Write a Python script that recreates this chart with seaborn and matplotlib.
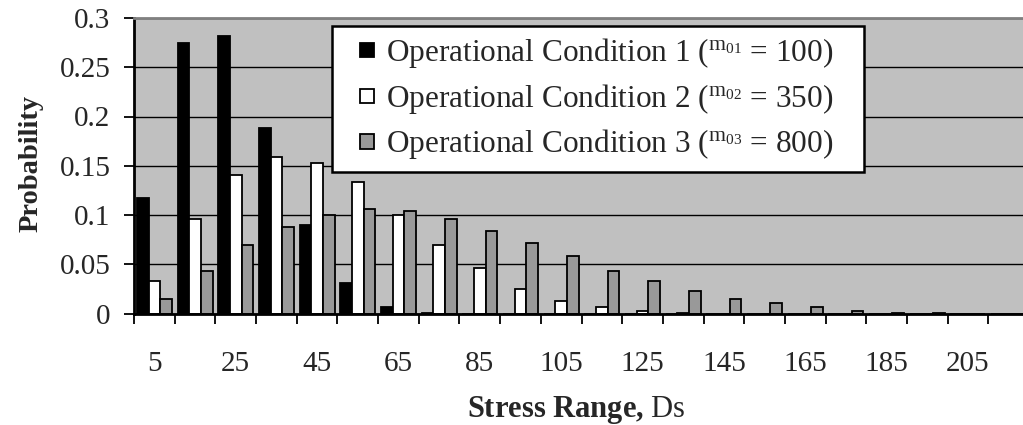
import numpy as np
import pandas as pd
import matplotlib
matplotlib.use("Agg")
import matplotlib.pyplot as plt
from matplotlib.patches import Rectangle
from matplotlib.legend_handler import HandlerPatch
import seaborn as sns

# Stress range bins (centres) and probability of each bin per operational condition
stress_range = [5, 15, 25, 35, 45, 55, 65, 75, 85, 95, 105,
                115, 125, 135, 145, 155, 165, 175, 185, 195, 205, 215]
cond1 = [0.117, 0.275, 0.282, 0.188, 0.090, 0.031, 0.007, 0.001, 0, 0, 0,
         0, 0, 0, 0, 0, 0, 0, 0, 0, 0, 0]
cond2 = [0.033, 0.096, 0.141, 0.159, 0.153, 0.133, 0.100, 0.070, 0.046, 0.025, 0.013,
         0.007, 0.003, 0.001, 0, 0, 0, 0, 0, 0, 0, 0]
cond3 = [0.015, 0.043, 0.070, 0.088, 0.100, 0.106, 0.104, 0.096, 0.084, 0.072, 0.058,
         0.043, 0.033, 0.023, 0.015, 0.011, 0.007, 0.003, 0.001, 0.001, 0, 0]
series_names = ["c1", "c2", "c3"]
legend_labels = [
    r"Operational Condition 1 (${}^{\mathrm{m}_{01}}$ = 100)",
    r"Operational Condition 2 (${}^{\mathrm{m}_{02}}$ = 350)",
    r"Operational Condition 3 (${}^{\mathrm{m}_{03}}$ = 800)",
]
y_ticks = [0, 0.05, 0.1, 0.15, 0.2, 0.25, 0.3]
y_ticklabels = ["0", "0.05", "0.1", "0.15", "0.2", "0.25", "0.3"]

cats = [str(s) for s in stress_range]
df = pd.DataFrame({
    "range": cats * 3,
    "prob": cond1 + cond2 + cond3,
    "cond": [series_names[0]] * len(cats) + [series_names[1]] * len(cats) + [series_names[2]] * len(cats),
})

sns.set_theme(style="white")
plt.rcParams["font.family"] = ["Liberation Serif", "DejaVu Serif"]
plt.rcParams["mathtext.fontset"] = "custom"
plt.rcParams["mathtext.rm"] = "Liberation Serif"
plt.rcParams["mathtext.it"] = "Liberation Serif:italic"
plt.rcParams["mathtext.bf"] = "Liberation Serif:bold"

W, H = 1023, 425
fig = plt.figure(figsize=(W / 100, H / 100), dpi=100)
ax = fig.add_axes([134 / W, (H - 313.5) / H, (1029 - 134) / W, (313.5 - 18) / H])
ax.set_facecolor("#c0c0c0")

sns.barplot(data=df, x="range", y="prob", hue="cond", order=cats,
            hue_order=series_names,
            palette=["#000000", "#ffffff", "#999999"],
            edgecolor="black", linewidth=1.3, width=0.86, gap=0,
            saturation=1, errorbar=None, ax=ax)

ax.set_xlim(-0.5, len(cats) - 0.5)
ax.set_ylim(0, 0.3)

# horizontal gridlines
ax.set_axisbelow(True)
ax.yaxis.grid(True, color="black", linewidth=1.0)
ax.xaxis.grid(False)

ax.set_yticks(y_ticks)
ax.set_yticklabels(y_ticklabels, fontsize=21)
ax.tick_params(axis="y", direction="out", length=7, width=1.3, color="black",
               pad=10, left=True)

# ticks on the bin boundaries, labels on every other bin
ax.set_xticks(np.arange(-0.5, len(cats), 1.0))
ax.set_xticklabels([])
ax.tick_params(axis="x", which="major", direction="out", length=7, width=1.3,
               color="black", bottom=True)
label_idx = list(range(0, len(cats) - 1, 2))
ax.set_xticks(label_idx, minor=True)
ax.set_xticklabels([cats[i] for i in label_idx], minor=True, fontsize=21)
ax.tick_params(axis="x", which="minor", length=0, pad=27)

ax.set_xlabel("")
ax.set_ylabel("")

for side in ["left", "bottom"]:
    ax.spines[side].set_color("black")
    ax.spines[side].set_linewidth(2)
ax.spines["top"].set_color("#808080")
ax.spines["top"].set_linewidth(2)
ax.spines["right"].set_color("#808080")


def square_patch(legend, orig_handle, xdescent, ydescent, width, height, fontsize):
    s = 0.45 * fontsize
    return Rectangle((width - s - xdescent, -ydescent + (height - s) / 2), s, s)


handles, _ = ax.get_legend_handles_labels()
ax.get_legend().remove()
ax_w, ax_h = 1029 - 134, 313.5 - 18
x0 = (332 - 134) / ax_w
y1 = (313.5 - 26) / ax_h
leg = ax.legend(handles, legend_labels, loc="upper left",
                bbox_to_anchor=(x0, y1 - 0.5, 532 / ax_w, 0.5), mode="expand",
                fontsize=22.5, frameon=True,
                fancybox=False, framealpha=1, edgecolor="black",
                handlelength=1.0, handleheight=0.7, handletextpad=0.4,
                labelspacing=0.37, borderpad=0.33, borderaxespad=0,
                handler_map={h: HandlerPatch(patch_func=square_patch) for h in handles})
leg.get_frame().set_linewidth(1.8)

fig.text(31 / W, 1 - 164 / H, "Probability", rotation=90, ha="center",
         va="center", fontsize=20.5, fontweight="bold")
fig.text(467 / W, (H - 417) / H, r"Stress Range, $\mathrm{Ds}$", ha="left",
         va="baseline", fontsize=22, fontweight="bold")

fig.savefig("out.png", dpi=100)
